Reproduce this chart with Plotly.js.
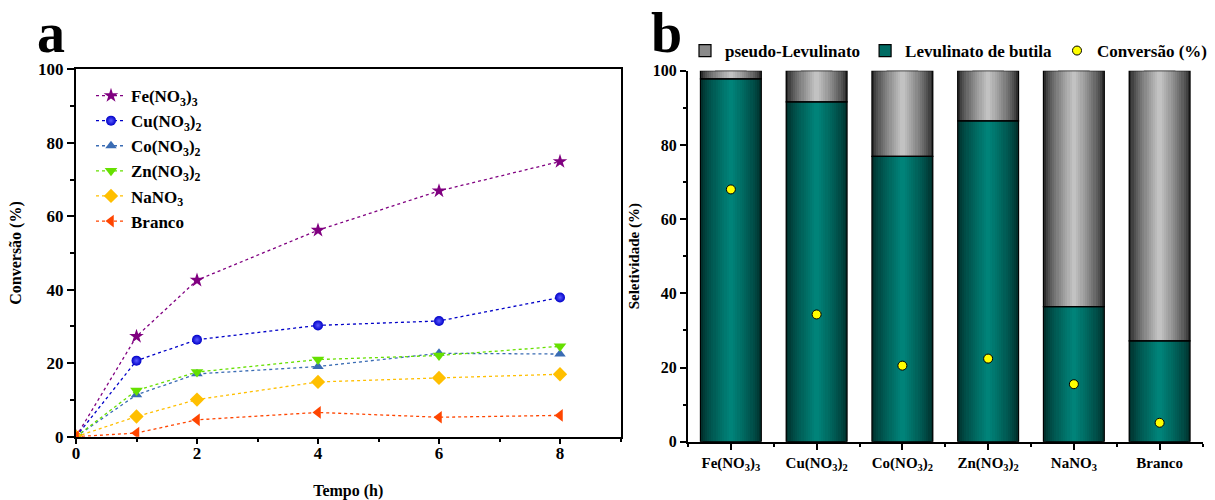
<!DOCTYPE html>
<html><head><meta charset="utf-8">
<script src="https://cdn.plot.ly/plotly-3.0.1.min.js"></script>
<style>html,body{margin:0;padding:0;background:#fff}</style>
</head><body><div id="chart" style="width:1215px;height:500px"></div>
<script>
// ---------- data: panel a ----------
const tempo = [0, 1, 2, 4, 6, 8];
const feNO3 = [0, 27.3, 42.6, 56.2, 66.9, 74.9];
const cuNO3 = [0, 20.7, 26.4, 30.3, 31.5, 37.9];
const coNO3 = [0, 11.4, 17.1, 19.1, 22.7, 22.5];
const znNO3 = [0, 12.6, 17.6, 21.0, 22.1, 24.6];
const naNO3 = [0, 5.5, 10.1, 14.9, 16.0, 17.0];
const branco = [0, 1.0, 4.6, 6.6, 5.3, 5.8];
const seriesNames = ['Fe(NO<sub>3</sub>)<sub>3</sub>', 'Cu(NO<sub>3</sub>)<sub>2</sub>', 'Co(NO<sub>3</sub>)<sub>2</sub>', 'Zn(NO<sub>3</sub>)<sub>2</sub>', 'NaNO<sub>3</sub>', 'Branco'];

// ---------- data: panel b ----------
const catalisadores = ['Fe(NO<sub>3</sub>)<sub>3</sub>', 'Cu(NO<sub>3</sub>)<sub>2</sub>', 'Co(NO<sub>3</sub>)<sub>2</sub>', 'Zn(NO<sub>3</sub>)<sub>2</sub>', 'NaNO<sub>3</sub>', 'Branco'];
const levulinatoButila = [97.8, 91.6, 76.9, 86.5, 36.4, 27.2];
const pseudoLevulinato = [2.2, 8.4, 23.1, 13.5, 63.6, 72.8];
const conversao = [68.0, 34.3, 20.5, 22.4, 15.5, 5.1];

const FONT = 'Liberation Serif, Times New Roman, serif';
const catIdx = catalisadores.map((_, i) => i);

// ---------- panel a traces ----------
const lineSeries = [feNO3, cuNO3, coNO3, znNO3, naNO3, branco];
const lineColors = ['#800080', '#0000c8', '#3a6cb4', '#66e000', '#ffbf00', '#ff4500'];
const symbols = ['star', 'circle', 'triangle-up', 'triangle-down', 'diamond', 'triangle-left'];
const sizes = [11, 10, 10, 11, 11, 11];
const traces = lineSeries.map((ys, i) => ({
  type: 'scatter', mode: 'lines+markers', x: tempo, y: ys, name: seriesNames[i],
  xaxis: 'x', yaxis: 'y', legend: 'legend',
  line: {color: lineColors[i], width: 1.3, dash: 'dot'},
  marker: Object.assign({symbol: symbols[i], size: sizes[i], color: lineColors[i], line: {width: 0}},
    i === 1 ? {gradient: {type: 'radial', color: '#5a5aff'}} : {})
}));

// ---------- panel b: shaded bars ----------
const W = 0.71, N = 14;
const zeros = catIdx.map(() => 0);
// legend entries (drawn first, hidden underneath the shaded bars)
traces.push({type: 'bar', x: catIdx, y: pseudoLevulinato, base: levulinatoButila, width: W * 0.5,
  name: 'pseudo-Levulinato', xaxis: 'x2', yaxis: 'y2', legend: 'legend2', hoverinfo: 'skip',
  marker: {color: '#8a8a8a', line: {width: 1.2, color: '#000'}}});
traces.push({type: 'bar', x: catIdx, y: levulinatoButila, base: zeros, width: W * 0.5,
  name: 'Levulinato de butila', xaxis: 'x2', yaxis: 'y2', legend: 'legend2', hoverinfo: 'skip',
  marker: {color: '#006b63', line: {width: 1.2, color: '#000'}}});

function hex(c) { return [parseInt(c.slice(1, 3), 16), parseInt(c.slice(3, 5), 16), parseInt(c.slice(5, 7), 16)]; }
function mix(a, b, t) { const A = hex(a), B = hex(b); return 'rgb(' + A.map((v, k) => Math.round(v + (B[k] - v) * t)).join(',') + ')'; }
function shaded(vals, base, edge, center) {
  for (let k = 0; k < N; k++) {
    const t = Math.pow(k / (N - 1), 0.75);
    traces.push({
      type: 'bar', x: catIdx, y: vals, base: base, width: W * (1 - k / N),
      xaxis: 'x2', yaxis: 'y2', showlegend: false, hoverinfo: 'skip',
      marker: {color: mix(edge, center, t), line: {width: 0}}
    });
  }
}
shaded(pseudoLevulinato, levulinatoButila, '#2c2c2c', '#c2c2c2');
shaded(levulinatoButila, zeros, '#00302c', '#008379');
// outlines
[[pseudoLevulinato, levulinatoButila], [levulinatoButila, zeros]].forEach(p => traces.push({
  type: 'bar', x: catIdx, y: p[0], base: p[1], width: W, xaxis: 'x2', yaxis: 'y2',
  showlegend: false, hoverinfo: 'skip',
  marker: {color: 'rgba(0,0,0,0)', line: {width: 1.2, color: '#000'}}
}));
traces.push({type: 'scatter', mode: 'markers', x: catIdx, y: conversao, name: 'Conversão (%)',
  xaxis: 'x2', yaxis: 'y2', legend: 'legend2',
  marker: {color: '#ffff00', size: 9, line: {width: 1, color: '#000'}}});

const tickFont = {family: FONT, size: 17, color: '#000', weight: 'bold'};
const titleFont = {family: FONT, size: 16, color: '#000', weight: 'bold'};
const layout = {
  width: 1215, height: 500, margin: {l: 0, r: 0, t: 0, b: 0},
  paper_bgcolor: '#fff', plot_bgcolor: 'rgba(0,0,0,0)',
  barmode: 'overlay', bargap: 0,
  xaxis: {domain: [76 / 1215, 620.5 / 1215], range: [0, 9], anchor: 'y',
    tickmode: 'linear', tick0: 0, dtick: 2, ticks: 'outside', ticklen: 5, tickwidth: 2, tickcolor: '#000',
    minor: {tickmode: 'linear', tick0: 0, dtick: 1, ticks: 'outside', ticklen: 3, tickwidth: 2, tickcolor: '#000'},
    showline: true, linewidth: 2, linecolor: '#000', mirror: true, showgrid: false, zeroline: false,
    ticklabelstandoff: -5,
    tickfont: tickFont, title: {text: 'Tempo (h)', font: titleFont, standoff: 26}},
  yaxis: {domain: [63.3 / 500, 430.7 / 500], range: [0, 100], anchor: 'x',
    tickmode: 'linear', tick0: 0, dtick: 20, ticks: 'outside', ticklen: 7, tickwidth: 2, tickcolor: '#000',
    minor: {tickmode: 'linear', tick0: 0, dtick: 10, ticks: 'outside', ticklen: 4, tickwidth: 2, tickcolor: '#000'},
    showline: true, linewidth: 2, linecolor: '#000', mirror: true, showgrid: false, zeroline: false,
    tickfont: tickFont, title: {text: 'Conversão (%)', font: titleFont, standoff: 12}},
  xaxis2: {domain: [688 / 1215, 1202.5 / 1215], range: [-0.5, 5.5], anchor: 'y2',
    tickmode: 'array', tickvals: catIdx, ticktext: catalisadores,
    ticks: 'outside', ticklen: 6, tickwidth: 2, tickcolor: '#000',
    minor: {tickmode: 'linear', tick0: 0.5, dtick: 1, ticks: 'outside', ticklen: 3, tickwidth: 2, tickcolor: '#000'},
    showline: true, linewidth: 2, linecolor: '#000', showgrid: false, zeroline: false,
    tickfont: {family: FONT, size: 15, color: '#000', weight: 'bold'}},
  yaxis2: {domain: [58.3 / 500, 429.3 / 500], range: [0, 100], anchor: 'x2',
    tickmode: 'linear', tick0: 0, dtick: 20, ticks: 'outside', ticklen: 6, tickwidth: 2, tickcolor: '#000',
    minor: {tickmode: 'linear', tick0: 0, dtick: 10, ticks: 'outside', ticklen: 3, tickwidth: 2, tickcolor: '#000'},
    showline: true, linewidth: 2, linecolor: '#000', showgrid: false, zeroline: false,
    tickfont: {family: FONT, size: 16, color: '#000', weight: 'bold'},
    title: {text: 'Seletividade (%)', font: {family: FONT, size: 15, color: '#000', weight: 'bold'}, standoff: 10}},
  legend: {x: 91 / 1215, y: 422 / 500, xanchor: 'left', yanchor: 'top', bgcolor: 'rgba(0,0,0,0)',
    font: {family: FONT, size: 17, color: '#000', weight: 'bold'}, itemwidth: 30, tracegroupgap: 0},
  legend2: {orientation: 'h', x: 685 / 1215, y: 467 / 500, xanchor: 'left', yanchor: 'top', bgcolor: 'rgba(0,0,0,0)',
    font: {family: FONT, size: 17, color: '#000', weight: 'bold'}, itemwidth: 30, traceorder: 'normal'},
  annotations: [
    {text: 'a', xref: 'paper', yref: 'paper', x: 35 / 1215, y: 1, xanchor: 'left', yanchor: 'top',
      showarrow: false, font: {family: FONT, size: 56, color: '#000', weight: 'bold'}},
    {text: 'b', xref: 'paper', yref: 'paper', x: 649 / 1215, y: 1, xanchor: 'left', yanchor: 'top',
      showarrow: false, font: {family: FONT, size: 56, color: '#000', weight: 'bold'}}
  ]
};
Plotly.newPlot('chart', traces, layout, {displayModeBar: false, staticPlot: true});
</script></body></html>
